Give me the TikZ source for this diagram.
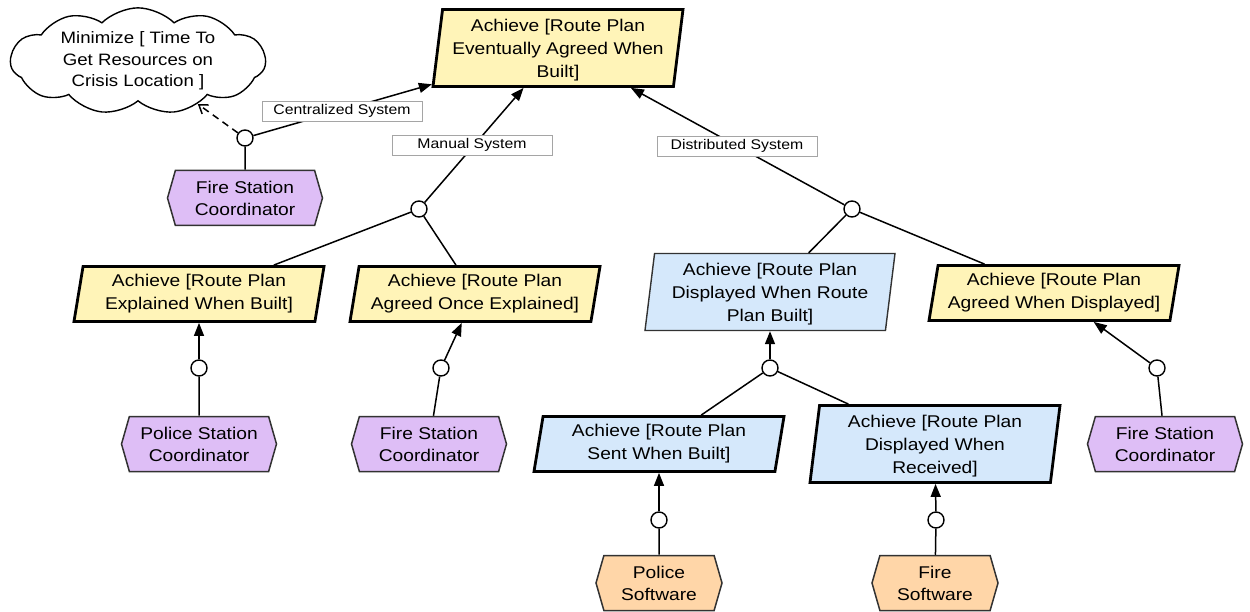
\documentclass[tikz,border=0pt]{standalone}
\usepackage{fontspec}
\setmainfont{Liberation Sans}[FakeStretch=1.13]
\usetikzlibrary{shapes.geometric,shapes.symbols,arrows.meta}
\definecolor{goalfill}{RGB}{255,244,184}
\definecolor{reqfill}{RGB}{213,232,251}
\definecolor{agentfill}{RGB}{222,190,246}
\definecolor{softfill}{RGB}{255,214,168}
\definecolor{edgegray}{RGB}{50,50,50}
\definecolor{tagborder}{RGB}{165,165,165}

\begin{document}
\begin{tikzpicture}[x=1pt,y=-1pt,
  every node/.style={font=\fontsize{17}{23}\selectfont, align=center},
  goalbox/.style={trapezium, trapezium stretches body, draw=black, line width=2.8pt,
    inner sep=1pt, fill=#1, minimum width=250pt},
  goalbox/.default=goalfill,
  goaltall/.style={minimum height=77pt, trapezium left angle=81, trapezium right angle=99,
    text depth=0pt},
  goalshort/.style={minimum height=55pt, trapezium left angle=77.5, trapezium right angle=102.5},
  agentbox/.style={signal, signal to=east and west, signal pointer angle=148,
    draw=edgegray, line width=1.5pt, fill=#1, minimum height=55pt, inner sep=1pt,
    font=\fontsize{17}{22}\selectfont},
  agentbox/.default=agentfill,
  andnode/.style={circle, draw=black, line width=1.4pt, fill=white,
    minimum size=16pt, inner sep=0pt},
  link/.style={draw=black, line width=1.5pt},
  arr/.style={link, -{Triangle[length=13pt,width=10pt]}},
  softarr/.style={link, dash pattern=on 7pt off 5pt, -{Straight Barb[length=8pt,width=11pt]}},
  tag/.style={draw=tagborder, fill=white, line width=0.8pt, minimum width=160pt,
    minimum height=20pt, inner sep=0pt, font=\fontsize{14}{16}\selectfont},
]
\useasboundingbox (0,0) rectangle (1250,612);

% goals and requirements
\node[goalbox, goaltall] (G0) at (558,48) {Achieve [Route Plan\\Eventually Agreed When\\Built]};
\node[goalbox, goalshort] (E1) at (199,294) {Achieve [Route Plan\\Explained When Built]};
\node[goalbox, goalshort] (E2) at (475,294) {Achieve [Route Plan\\Agreed Once Explained]};
\node[goalbox=reqfill, goaltall, line width=1.4pt, draw=edgegray] (D1) at (770,292)
  {Achieve [Route Plan\\Displayed When Route\\Plan Built]};
\node[goalbox, goalshort] (AD) at (1054,293) {Achieve [Route Plan\\Agreed When Displayed]};
\node[goalbox=reqfill, goalshort] (S1) at (659,444) {Achieve [Route Plan\\Sent When Built]};
\node[goalbox=reqfill, goaltall] (S2) at (935,444) {Achieve [Route Plan\\Displayed When\\Received]};

% soft goal
\node[cloud, cloud puffs=11, cloud puff arc=90, aspect=2.6, draw=black, line width=1.4pt,
  minimum width=255pt, minimum height=95pt, inner sep=0pt,
  font=\fontsize{16.5}{21.5}\selectfont] (soft) at (138,61)
  {Minimize [ Time To\\Get Resources on\\Crisis Location ]};

% agents
\node[agentbox, minimum width=155pt] (FSC1) at (245,198) {Fire Station\\Coordinator};
\node[agentbox, minimum width=155pt] (PSC) at (199,444) {Police Station\\Coordinator};
\node[agentbox, minimum width=155pt] (FSC2) at (429,444) {Fire Station\\Coordinator};
\node[agentbox, minimum width=155pt] (FSC3) at (1165,444) {Fire Station\\Coordinator};
\node[agentbox=softfill, minimum width=126pt] (PSW) at (659,583) {Police\\Software};
\node[agentbox=softfill, minimum width=126pt] (FSW) at (935,583) {Fire\\Software};

% refinement and assignment circles
\node[andnode] (c1) at (245,138) {};
\node[andnode] (M) at (419,209) {};
\node[andnode] (D) at (852,209) {};
\node[andnode] (cE1) at (199,368) {};
\node[andnode] (cE2) at (441,368) {};
\node[andnode] (D1c) at (770,368) {};
\node[andnode] (cAD) at (1157,368) {};
\node[andnode] (cS1) at (659,520) {};
\node[andnode] (cS2) at (936,520) {};

% links
\draw[arr] (c1) -- (G0);
\draw[softarr] (c1) -- (soft);
\draw[link] (FSC1) -- (c1);
\draw[arr] (M) -- (G0);
\draw[link] (E1) -- (M);
\draw[link] (E2) -- (M);
\draw[arr] (D) -- (G0);
\draw[link] (D1) -- (D);
\draw[link] (AD) -- (D);
\draw[arr] (cE1) -- (E1);
\draw[link] (PSC) -- (cE1);
\draw[arr] (cE2) -- (E2);
\draw[link] (FSC2) -- (cE2);
\draw[arr] (D1c) -- (D1);
\draw[link] (S1) -- (D1c);
\draw[link] (S2) -- (D1c);
\draw[arr] (cAD) -- (AD);
\draw[link] (FSC3) -- (cAD);
\draw[arr] (cS1) -- (S1);
\draw[link] (PSW) -- (cS1);
\draw[arr] (cS2) -- (S2);
\draw[link] (FSW) -- (cS2);

% alternative labels
\node[tag] (tc) at (342,111) {Centralized System};
\node[tag] (tm) at (472,145) {Manual System};
\node[tag] (td) at (737,146) {Distributed System};
\end{tikzpicture}
\end{document}
